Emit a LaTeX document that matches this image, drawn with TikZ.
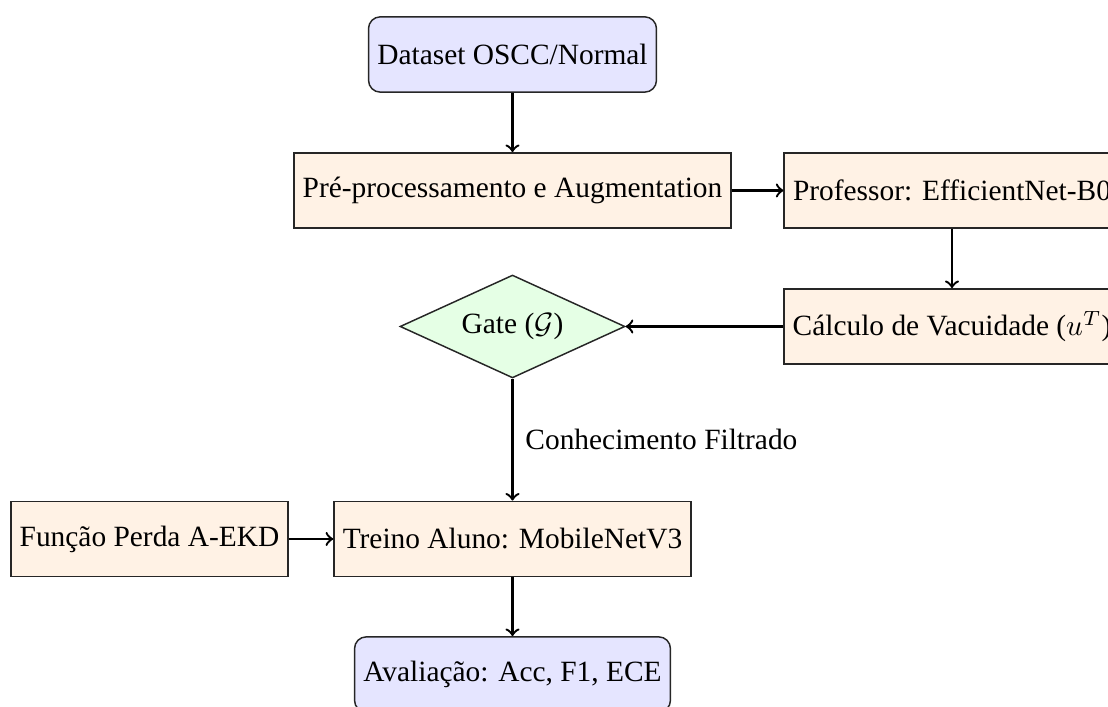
\documentclass[tikz,border=0pt]{standalone}
\usepackage{fontspec}
\setmainfont{Liberation Serif}
\usetikzlibrary{shapes.geometric}
\tikzset{
  basefont/.style={font=\fontsize{10}{12}\selectfont},
  proc/.style={rectangle, draw=black!85, line width=0.5pt, fill=orange!10, minimum height=0.9cm, inner xsep=3pt, basefont},
  term/.style={rectangle, rounded corners=4pt, draw=black!85, line width=0.5pt, fill=blue!10, minimum height=0.9cm, inner xsep=3pt, basefont},
  gatebox/.style={diamond, draw=black!85, line width=0.5pt, fill=green!10, aspect=2.2, inner sep=0pt, minimum width=76.5pt, minimum height=35pt, basefont},
  conn/.style={->, thick},
  lbl/.style={basefont}
}
\begin{document}
\begin{tikzpicture}[x=0.3401pt, y=-0.3401pt]
\useasboundingbox (0,0) rectangle (1108,707);
\clip (0,0) rectangle (1108,707);
\node[term] (data) at (512.5,54.5) {Dataset OSCC/Normal};
\node[proc] (pre) at (512.5,190.5) {Pré-processamento e Augmentation};
\node[proc] (prof) at (952,190.5) {Professor: EfficientNet-B0};
\node[proc] (calc) at (952,326.5) {Cálculo de Vacuidade ($u^T$)};
\node[gatebox] (gate) at (512.5,326.5) {Gate ($\mathcal{G}$)};
\node[proc] (treino) at (512.5,539) {Treino Aluno: MobileNetV3};
\node[proc] (perda) at (149.5,539) {Função Perda A-EKD};
\node[term] (aval) at (512.5,674.5) {Avaliação: Acc, F1, ECE};
\draw[conn] (data) -- (pre);
\draw[conn] (pre) -- (prof);
\draw[conn] (prof) -- (calc);
\draw[conn] (calc) -- (gate);
\draw[conn] (gate) -- node[lbl, right, inner xsep=4pt] {Conhecimento Filtrado} (treino);
\draw[conn] (perda) -- (treino);
\draw[conn] (treino) -- (aval);
\end{tikzpicture}
\end{document}
